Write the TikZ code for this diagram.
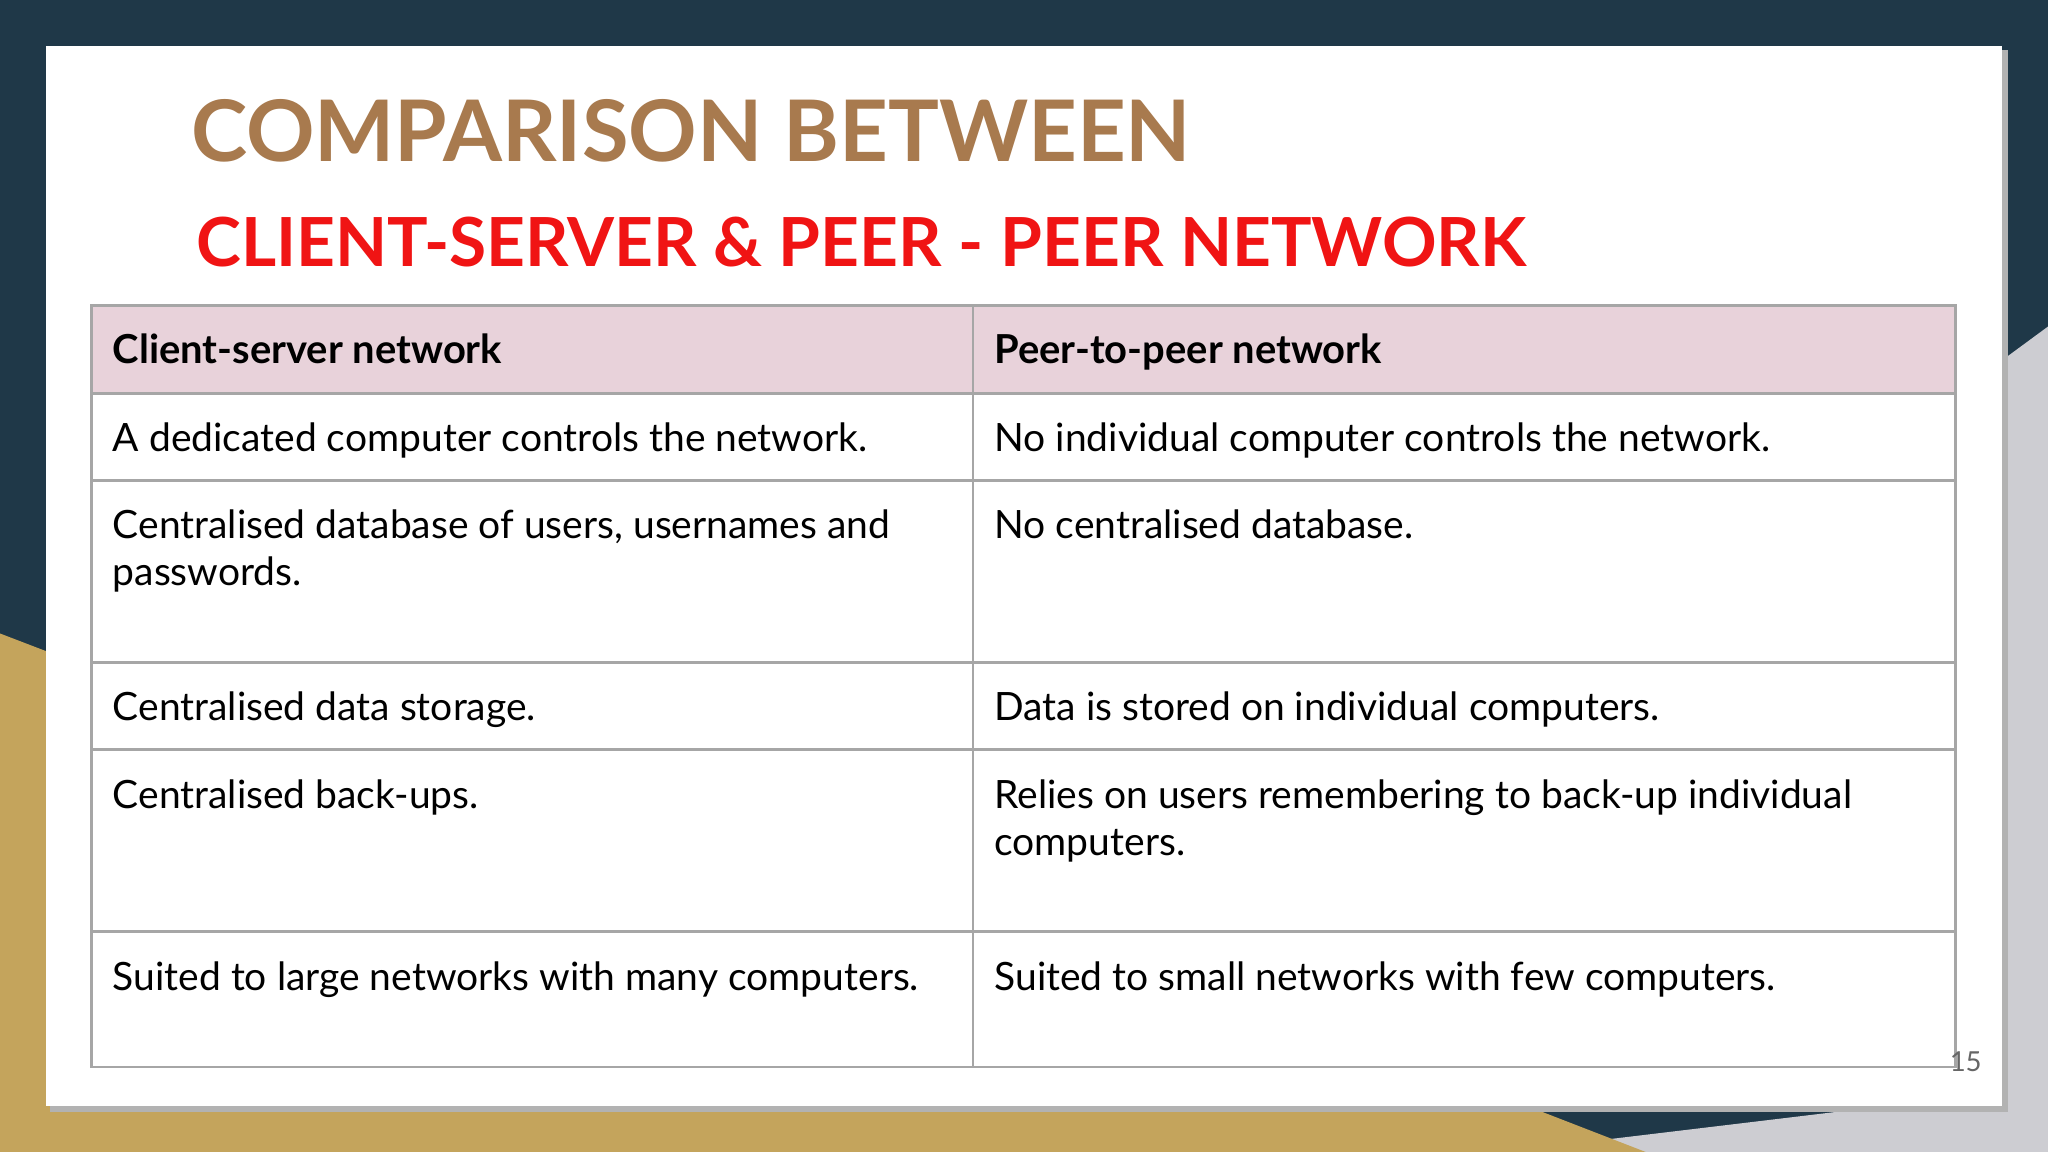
\documentclass[tikz,border=0pt]{standalone}
\usepackage{fontspec}
\setmainfont{Lato}
\begin{document}
\begin{tikzpicture}[x=0.02cm,y=-0.02cm,
  cell/.style={anchor=north west,inner sep=0pt,align=left,font=\fontsize{17}{20.5}\selectfont},
  grid/.style={draw=black!35,line width=1.2pt}]
\useasboundingbox (0,0) rectangle (1568,882);
\fill[fill={rgb,255:red,31;green,56;blue,72}] (0,0) rectangle (1568,882);
\fill[fill={rgb,255:red,205;green,205;blue,210}] (1568,250) -- (1500,300) -- (1500,840) -- (1150,882) -- (1568,882) -- cycle;
\fill[fill={rgb,255:red,196;green,164;blue,92}] (0,485) -- (300,600) -- (1100,820) -- (1260,882) -- (0,882) -- cycle;
\fill[black!30] (38,38) rectangle (1537,851);
\fill[white] (35,35) rectangle (1533,847);
\node[anchor=west,inner sep=0pt,text={rgb,255:red,168;green,122;blue,78},font=\fontsize{37}{37}\bfseries\selectfont] (t1) at (146,100) {COMPARISON BETWEEN};
\node[anchor=west,inner sep=0pt,text={rgb,255:red,240;green,20;blue,20},font=\fontsize{29.5}{30}\bfseries\selectfont] (t2) at (150,185) {CLIENT-SERVER \& PEER - PEER NETWORK};
\fill[fill={rgb,255:red,232;green,210;blue,218}] (70,234) rectangle (1497,301);
\draw[grid] (70,234) rectangle (1497,817);
\foreach \yy in {301,368,507,574,713} \draw[grid] (70,\yy) -- (1497,\yy);
\draw[grid] (745,234) -- (745,817);
\node[cell,font=\fontsize{17.4}{20.5}\bfseries\selectfont] (h1) at (86,255) {Client-server network};
\node[cell,font=\fontsize{17.4}{20.5}\bfseries\selectfont] (h2) at (761,255) {Peer-to-peer network};
\node[cell] (a1) at (86,323) {A dedicated computer controls the network.};
\node[cell] (a2) at (761,323) {No individual computer controls the network.};
\node[cell] (b1) at (86,390) {Centralised database of users, usernames and\\passwords.};
\node[cell] (b2) at (761,390) {No centralised database.};
\node[cell] (c1) at (86,529) {Centralised data storage.};
\node[cell] (c2) at (761,529) {Data is stored on individual computers.};
\node[cell] (d1) at (86,597) {Centralised back-ups.};
\node[cell] (d2) at (761,597) {Relies on users remembering to back-up individual\\computers.};
\node[cell] (e1) at (86,736) {Suited to large networks with many computers.};
\node[cell] (e2) at (761,736) {Suited to small networks with few computers.};
\node[text=black!60,font=\fontsize{12}{12}\selectfont,inner sep=0pt] (pg) at (1505,813) {15};
\end{tikzpicture}
\end{document}
